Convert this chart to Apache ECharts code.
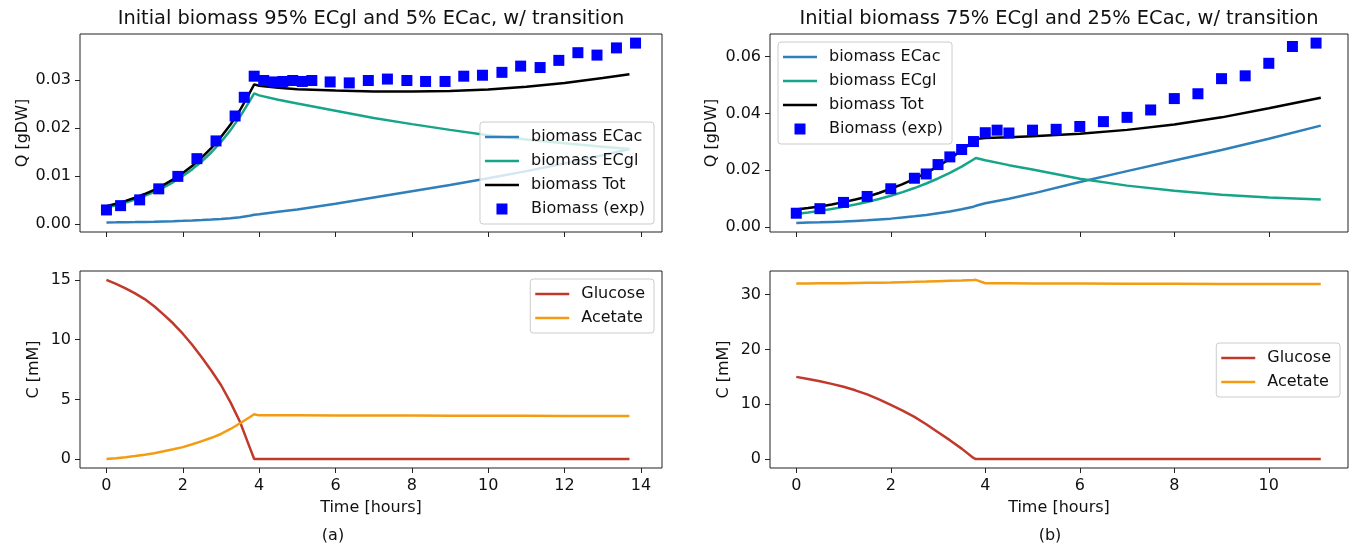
<!DOCTYPE html>
<html>
<head>
<meta charset="utf-8">
<script src="https://cdn.jsdelivr.net/npm/echarts@6/dist/echarts.min.js"></script>
<style>
html,body{margin:0;padding:0;background:#fff;}
#chart{width:1356px;height:549px;}
</style>
</head>
<body>
<div id="chart"></div>
<script>
// ---------- Panel (a): 95% ECgl / 5% ECac ----------
const tA = [0, 0.25, 0.5, 0.75, 1, 1.25, 1.5, 1.75, 2, 2.25, 2.5, 2.75, 3, 3.25, 3.5, 3.75, 3.87, 4, 4.5, 5, 6, 7, 8, 9, 10, 11, 12, 13, 13.7];
const ecacA = [0.0003, 0.00031, 0.00033, 0.00036, 0.0004, 0.00044, 0.0005, 0.00056, 0.00063, 0.00071, 0.0008, 0.0009, 0.00102, 0.00118, 0.00138, 0.0017, 0.0019, 0.0020, 0.0025, 0.0030, 0.0042, 0.0055, 0.0068, 0.0081, 0.0095, 0.0110, 0.0126, 0.0143, 0.0156];
const ecglA = [0.0034, 0.00389, 0.00445, 0.00509, 0.00582, 0.00666, 0.00762, 0.00872, 0.00998, 0.01141, 0.01306, 0.01494, 0.01709, 0.01955, 0.02237, 0.02559, 0.0272, 0.0268, 0.0259, 0.0251, 0.0236, 0.0221, 0.0208, 0.0196, 0.0185, 0.0176, 0.0168, 0.0161, 0.0156];
const totA = [0.0037, 0.0042, 0.00478, 0.00545, 0.00622, 0.0071, 0.00812, 0.00928, 0.01061, 0.01212, 0.01386, 0.01584, 0.01811, 0.02073, 0.02375, 0.02729, 0.0291, 0.0288, 0.0284, 0.0281, 0.0278, 0.0276, 0.0276, 0.0277, 0.0280, 0.0286, 0.0294, 0.0304, 0.0312];
const glucoseA = [15.0, 14.67, 14.3, 13.88, 13.4, 12.8, 12.1, 11.35, 10.5, 9.55, 8.5, 7.4, 6.2, 4.75, 3.1, 1.0, 0, 0, 0, 0, 0, 0, 0, 0, 0, 0, 0, 0, 0];
const acetateA = [0, 0.07, 0.15, 0.25, 0.36, 0.49, 0.65, 0.82, 1.0, 1.24, 1.5, 1.78, 2.1, 2.52, 3.0, 3.5, 3.75, 3.66, 3.66, 3.66, 3.65, 3.65, 3.64, 3.63, 3.63, 3.62, 3.61, 3.6, 3.6];
const expTA = [0, 0.37, 0.87, 1.37, 1.87, 2.37, 2.87, 3.37, 3.61, 3.87, 4.12, 4.38, 4.62, 4.88, 5.13, 5.38, 5.86, 6.36, 6.86, 7.36, 7.87, 8.36, 8.87, 9.36, 9.85, 10.36, 10.85, 11.36, 11.85, 12.35, 12.85, 13.36, 13.86];
const expA = [0.0029, 0.0038, 0.0050, 0.0073, 0.0099, 0.0136, 0.0173, 0.0225, 0.0264, 0.0308, 0.0299, 0.0296, 0.0297, 0.0299, 0.0297, 0.0299, 0.0296, 0.0294, 0.0299, 0.0302, 0.0299, 0.0297, 0.0297, 0.0308, 0.0310, 0.0316, 0.0329, 0.0326, 0.0341, 0.0357, 0.0352, 0.0367, 0.0377];

// ---------- Panel (b): 75% ECgl / 25% ECac ----------
const tB = [0, 0.25, 0.5, 0.75, 1, 1.25, 1.5, 1.75, 2, 2.25, 2.5, 2.75, 3, 3.25, 3.5, 3.75, 3.8, 4, 4.5, 5, 6, 7, 8, 9, 10, 11.1];
const ecacB = [0.0015, 0.0016, 0.0017, 0.00185, 0.0020, 0.0022, 0.0024, 0.0027, 0.0030, 0.0034, 0.0038, 0.0043, 0.0049, 0.0055, 0.0063, 0.0072, 0.0075, 0.0084, 0.0100, 0.0118, 0.0159, 0.0197, 0.0234, 0.0271, 0.0311, 0.0357];
const ecglB = [0.0046, 0.00513, 0.00573, 0.00639, 0.00713, 0.00795, 0.00887, 0.0099, 0.01105, 0.01232, 0.01375, 0.01534, 0.01711, 0.01909, 0.0213, 0.02377, 0.0243, 0.0235, 0.0218, 0.0203, 0.0170, 0.0146, 0.0128, 0.0114, 0.0104, 0.0097];
const totB = [0.0062, 0.0067, 0.0073, 0.0080, 0.0088, 0.0097, 0.0107, 0.0120, 0.0135, 0.0151, 0.0170, 0.0191, 0.0214, 0.0240, 0.0270, 0.0303, 0.0310, 0.0313, 0.0316, 0.0320, 0.0328, 0.0342, 0.0361, 0.0386, 0.0418, 0.0455];
const glucoseB = [15.0, 14.62, 14.2, 13.73, 13.2, 12.55, 11.8, 10.9, 9.9, 8.85, 7.7, 6.35, 4.9, 3.45, 1.9, 0.2, 0, 0, 0, 0, 0, 0, 0, 0, 0, 0];
const acetateB = [32.05, 32.06, 32.08, 32.1, 32.12, 32.15, 32.18, 32.21, 32.25, 32.3, 32.35, 32.41, 32.48, 32.55, 32.62, 32.7, 32.72, 32.1, 32.08, 32.06, 32.04, 32.02, 32.0, 31.98, 31.96, 31.94];
const expTB = [0, 0.5, 1.0, 1.5, 2.0, 2.5, 2.75, 3.0, 3.25, 3.5, 3.75, 4.0, 4.25, 4.5, 5.0, 5.5, 6.0, 6.5, 7.0, 7.5, 8.0, 8.5, 9.0, 9.5, 10.0, 10.5, 11.0];
const expB = [0.0049, 0.0065, 0.0087, 0.0108, 0.0135, 0.0172, 0.0187, 0.0220, 0.0247, 0.0273, 0.0301, 0.0332, 0.0341, 0.0331, 0.0341, 0.0344, 0.0354, 0.0371, 0.0386, 0.0412, 0.0452, 0.0469, 0.0522, 0.0532, 0.0576, 0.0635, 0.0647];

// ---------- Tick labels / texts ----------
const xTicksA = [0, 2, 4, 6, 8, 10, 12, 14];
const xTicksB = [0, 2, 4, 6, 8, 10];
const qTicksA = [0, 0.01, 0.02, 0.03];
const qTicksB = [0, 0.02, 0.04, 0.06];
const cTicksA = [0, 5, 10, 15];
const cTicksB = [0, 10, 20, 30];
const titleA = 'Initial biomass 95% ECgl and 5% ECac, w/ transition';
const titleB = 'Initial biomass 75% ECgl and 25% ECac, w/ transition';
const bioNames = ['biomass ECac', 'biomass ECgl', 'biomass Tot', 'Biomass (exp)'];
const concNames = ['Glucose', 'Acetate'];

const COL = { ecac: '#2e7fba', ecgl: '#17a589', tot: '#000000', exp: '#0000ff', glc: '#c0392b', ace: '#f39c12' };
const FONT = 'DejaVu Sans';
const zip = (xs, ys) => xs.map((x, i) => [x, ys[i]]);

function xAxis(gi, min, max, ticks, showLabel) {
  return {
    type: 'value', gridIndex: gi, min: min, max: max,
    splitLine: { show: false },
    axisLine: { show: false, onZero: false },
    axisTick: { show: true, length: 5, inside: false, customValues: ticks, lineStyle: { color: '#222', width: 1 } },
    axisLabel: { show: showLabel, customValues: ticks, margin: 10, fontSize: 16, fontFamily: FONT, color: '#111' },
    name: showLabel ? 'Time [hours]' : '', nameLocation: 'middle', nameGap: 32,
    nameTextStyle: { fontSize: 16, fontFamily: FONT, color: '#111' }
  };
}
function yAxis(gi, min, max, ticks, digits, name, gap) {
  return {
    type: 'value', gridIndex: gi, min: min, max: max,
    splitLine: { show: false },
    axisLine: { show: false, onZero: false },
    axisTick: { show: true, length: 5, inside: false, customValues: ticks, lineStyle: { color: '#222', width: 1 } },
    axisLabel: { customValues: ticks, margin: 9, fontSize: 16, fontFamily: FONT, color: '#111',
      formatter: v => Number(v).toFixed(digits) },
    name: name, nameLocation: 'middle', nameRotate: 90, nameGap: gap,
    nameTextStyle: { fontSize: 16, fontFamily: FONT, color: '#111' }
  };
}
function line(name, xi, ys, color) {
  return { type: 'line', name: name, xAxisIndex: xi, yAxisIndex: xi, data: zip(xi < 2 ? tA : tB, ys),
    symbol: 'none', showSymbol: false, smooth: false, lineStyle: { color: color, width: 2.5 }, itemStyle: { color: color },
    animation: false, z: 2 };
}
function scat(name, xi, xs, ys) {
  return { type: 'scatter', name: name, xAxisIndex: xi, yAxisIndex: xi, data: zip(xs, ys),
    symbol: 'rect', symbolSize: 11, itemStyle: { color: COL.exp, opacity: 1 }, animation: false, z: 3 };
}
const LINE_ICON = 'path://M0,0L34,0L34,2.5L0,2.5Z';
const SQUARE_ICON = 'path://M0,0L10,0L10,10L0,10Z';
const legendBase = {
  orient: 'vertical', itemWidth: 34, itemHeight: 11, itemGap: 8,
  padding: [7, 9, 7, 5], backgroundColor: 'rgba(255,255,255,0.8)', borderColor: '#cccccc', borderWidth: 1, borderRadius: 3,
  textStyle: { fontSize: 16, fontFamily: FONT, color: '#111', lineHeight: 16, padding: [0, 0, 0, 7] },
  selectedMode: false
};
const bioLegendData = bioNames.map((n, i) => ({ name: n, icon: i === 3 ? SQUARE_ICON : LINE_ICON }));
const concLegendData = concNames.map(n => ({ name: n, icon: LINE_ICON }));

const chart = echarts.init(document.getElementById('chart'), null, { renderer: 'canvas' });
chart.setOption({
  animation: false,
  backgroundColor: '#ffffff',
  title: [
    { text: titleA, left: 371, top: 9, textAlign: 'center', padding: 0, textStyle: { fontSize: 19.4, fontWeight: 'normal', fontFamily: FONT, color: '#111' } },
    { text: titleB, left: 1059, top: 9, textAlign: 'center', padding: 0, textStyle: { fontSize: 19.4, fontWeight: 'normal', fontFamily: FONT, color: '#111' } },
    { text: '(a)', left: 333, top: 528, textAlign: 'center', padding: 0, textStyle: { fontSize: 16, fontWeight: 'normal', fontFamily: FONT, color: '#111' } },
    { text: '(b)', left: 1050, top: 528, textAlign: 'center', padding: 0, textStyle: { fontSize: 16, fontWeight: 'normal', fontFamily: FONT, color: '#111' } }
  ],
  grid: [
    { left: 80, top: 34, width: 582, height: 198, show: true, borderColor: '#222', borderWidth: 1, backgroundColor: 'transparent' },
    { left: 80, top: 271, width: 582, height: 197, show: true, borderColor: '#222', borderWidth: 1, backgroundColor: 'transparent' },
    { left: 770, top: 34, width: 578, height: 198, show: true, borderColor: '#222', borderWidth: 1, backgroundColor: 'transparent' },
    { left: 770, top: 271, width: 578, height: 197, show: true, borderColor: '#222', borderWidth: 1, backgroundColor: 'transparent' }
  ],
  xAxis: [
    xAxis(0, -0.693, 14.553, xTicksA, false),
    xAxis(1, -0.693, 14.553, xTicksA, true),
    xAxis(2, -0.556, 11.676, xTicksB, false),
    xAxis(3, -0.556, 11.676, xTicksB, true)
  ],
  yAxis: [
    yAxis(0, -0.0017, 0.0396, qTicksA, 2, 'Q [gDW]', 49),
    yAxis(1, -0.75, 15.75, cTicksA, 0, 'C [mM]', 38),
    yAxis(2, -0.0017, 0.0679, qTicksB, 2, 'Q [gDW]', 50),
    yAxis(3, -1.635, 34.335, cTicksB, 0, 'C [mM]', 38)
  ],
  legend: [
    Object.assign({}, legendBase, { data: bioLegendData, right: 702, bottom: 325 }),
    Object.assign({}, legendBase, { data: concLegendData, right: 702, top: 279 }),
    Object.assign({}, legendBase, { data: bioLegendData, left: 778, top: 42 }),
    Object.assign({}, legendBase, { data: concLegendData, right: 16, top: 343 })
  ],
  series: [
    line('biomass ECac', 0, ecacA, COL.ecac),
    line('biomass ECgl', 0, ecglA, COL.ecgl),
    line('biomass Tot', 0, totA, COL.tot),
    scat('Biomass (exp)', 0, expTA, expA),
    line('Glucose', 1, glucoseA, COL.glc),
    line('Acetate', 1, acetateA, COL.ace),
    line('biomass ECac', 2, ecacB, COL.ecac),
    line('biomass ECgl', 2, ecglB, COL.ecgl),
    line('biomass Tot', 2, totB, COL.tot),
    scat('Biomass (exp)', 2, expTB, expB),
    line('Glucose', 3, glucoseB, COL.glc),
    line('Acetate', 3, acetateB, COL.ace)
  ]
});
</script>
</body>
</html>
